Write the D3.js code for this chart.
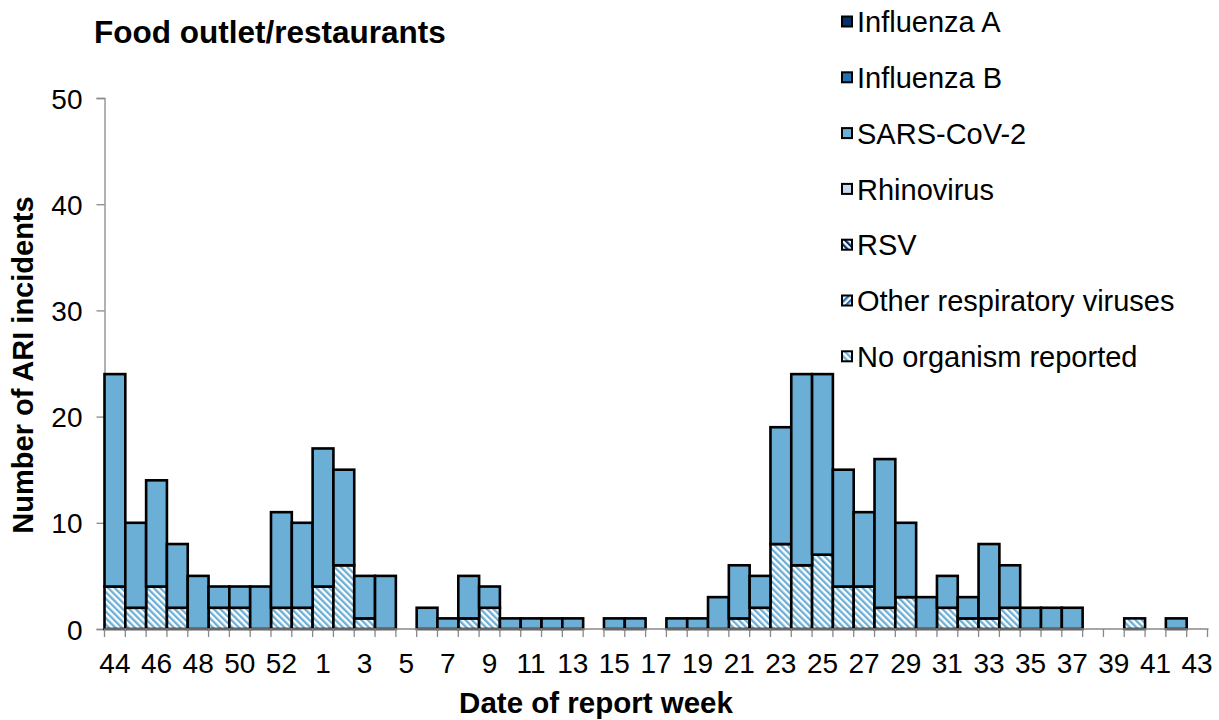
<!DOCTYPE html>
<html>
<head>
<meta charset="utf-8">
<script src="https://cdn.jsdelivr.net/npm/d3@7"></script>
<style>
  body { margin: 0; background: #fff; }
  svg { font-family: "Liberation Sans", Arial, sans-serif; }
</style>
</head>
<body>
<svg id="chart" width="1219" height="720"></svg>
<script>
// report weeks (2020 week 44 .. 2021 week 43)
const weeks = ["44","45","46","47","48","49","50","51","52","53",
  "1","2","3","4","5","6","7","8","9","10",
  "11","12","13","14","15","16","17","18","19","20",
  "21","22","23","24","25","26","27","28","29","30",
  "31","32","33","34","35","36","37","38","39","40",
  "41","42","43"];

const sarsCov2 = [20,8,10,6,5,2,2,4,9,8,
  13,9,4,5,0,2,1,4,2,1,
  1,1,1,0,1,1,0,1,1,3,
  5,3,11,18,17,11,7,14,7,3,
  3,2,7,4,2,2,2,0,0,0,
  0,1,0];

const noOrganism = [4,2,4,2,0,2,2,0,2,2,
  4,6,1,0,0,0,0,1,2,0,
  0,0,0,0,0,0,0,0,0,0,
  1,2,8,6,7,4,4,2,3,0,
  2,1,1,2,0,0,0,0,0,1,
  0,0,0];

const legendNames = ["Influenza A","Influenza B","SARS-CoV-2","Rhinovirus","RSV","Other respiratory viruses","No organism reported"];
const yTicks = [0,10,20,30,40,50];

const svg = d3.select("#chart");
const plotLeft = 104.5, plotRight = 1207.5, plotTop = 98, plotBottom = 629;
const axisColour = "#898989";

// patterns
const defs = svg.append("defs");
const addStripes = (id, colour, angle) => {
  const p = defs.append("pattern")
    .attr("id", id)
    .attr("patternUnits", "userSpaceOnUse")
    .attr("width", 4.6).attr("height", 4.6)
    .attr("patternTransform", `rotate(${angle})`);
  p.append("rect").attr("width", 4.6).attr("height", 4.6).attr("fill", "#fff");
  p.append("rect").attr("width", 2.3).attr("height", 4.6).attr("fill", colour);
};
addStripes("hatchNone", "#6baed6", -45);
addStripes("hatchOther", "#2171b5", 45);
addStripes("hatchRsv", "#08306b", -45);

const fills = {
  "Influenza A": "#08306b",
  "Influenza B": "#2171b5",
  "SARS-CoV-2": "#6baed6",
  "Rhinovirus": "#c6dbef",
  "RSV": "url(#hatchRsv)",
  "Other respiratory viruses": "url(#hatchOther)",
  "No organism reported": "url(#hatchNone)"
};

const x = d3.scaleBand().domain(weeks).range([plotLeft, plotRight]).padding(0);
const y = d3.scaleLinear().domain([0, 50]).range([plotBottom, plotTop]);

// stacked data: bottom first
const rows = weeks.map((w, i) => ({ week: w, "No organism reported": noOrganism[i], "SARS-CoV-2": sarsCov2[i] }));
const stack = d3.stack().keys(["No organism reported", "SARS-CoV-2"]);
const series = stack(rows);

// axes
const yAxis = svg.append("g").attr("transform", `translate(${plotLeft},0)`)
  .call(d3.axisLeft(y).tickValues(yTicks).tickSize(8).tickPadding(14));
yAxis.select(".domain").attr("stroke", axisColour).attr("stroke-width", 1.3);
yAxis.selectAll(".tick line").attr("stroke", axisColour).attr("stroke-width", 1.3);
yAxis.selectAll(".tick text").attr("font-size", 28).attr("fill", "#000").attr("dy", "0.36em");

// bars
series.forEach(s => {
  svg.append("g").selectAll("rect")
    .data(s.filter(d => d[1] - d[0] > 0))
    .join("rect")
    .attr("x", d => x(d.data.week))
    .attr("width", x.bandwidth())
    .attr("y", d => y(d[1]))
    .attr("height", d => y(d[0]) - y(d[1]))
    .attr("fill", fills[s.key])
    .attr("stroke", "#000")
    .attr("stroke-width", 2.6);
});

// x axis (ticks at band edges, labels every other week)
const xAxis = svg.append("g");
xAxis.append("line")
  .attr("x1", plotLeft).attr("x2", plotRight + 1).attr("y1", plotBottom).attr("y2", plotBottom)
  .attr("stroke", axisColour).attr("stroke-width", 1.3);
xAxis.selectAll("line.tk")
  .data(weeks.concat(["end"]))
  .join("line")
  .attr("class", "tk")
  .attr("x1", (d, i) => plotLeft + i * x.bandwidth())
  .attr("x2", (d, i) => plotLeft + i * x.bandwidth())
  .attr("y1", plotBottom).attr("y2", plotBottom + 8)
  .attr("stroke", axisColour).attr("stroke-width", 1.3);
xAxis.selectAll("text")
  .data(weeks.filter((d, i) => i % 2 === 0))
  .join("text")
  .attr("x", d => x(d) + x.bandwidth() / 2)
  .attr("y", 673)
  .attr("text-anchor", "middle")
  .attr("font-size", 28)
  .text(d => d);

// titles
svg.append("text").attr("x", 94).attr("y", 43)
  .attr("font-size", 31.5).attr("font-weight", "bold").text("Food outlet/restaurants");
svg.append("text").attr("x", 596).attr("y", 713)
  .attr("text-anchor", "middle").attr("font-size", 29.5).attr("font-weight", "bold")
  .text("Date of report week");
svg.append("text")
  .attr("transform", "translate(33,365) rotate(-90)")
  .attr("text-anchor", "middle").attr("font-size", 29).attr("font-weight", "bold")
  .text("Number of ARI incidents");

// legend
const legend = svg.append("g").selectAll("g")
  .data(legendNames)
  .join("g")
  .attr("transform", (d, i) => `translate(842,${22 + i * 55.8})`);
legend.append("rect")
  .attr("x", 0).attr("y", -5.5).attr("width", 10).attr("height", 10)
  .attr("fill", d => fills[d]).attr("stroke", "#000").attr("stroke-width", 2);
legend.append("text")
  .attr("x", 15).attr("y", 0).attr("dy", "0.35em")
  .attr("font-size", 29).text(d => d);
</script>
</body>
</html>
